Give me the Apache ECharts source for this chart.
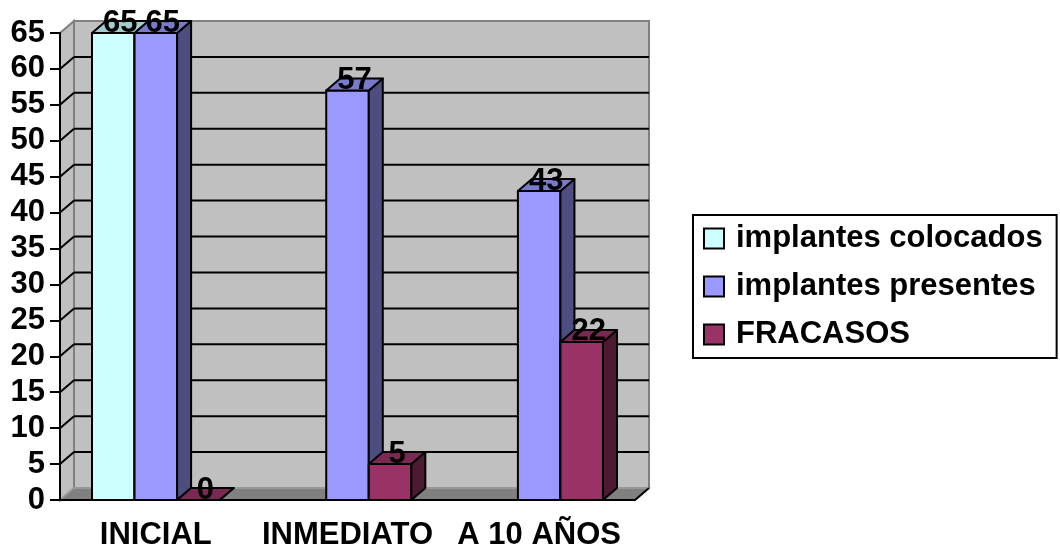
<!DOCTYPE html>
<html>
<head>
<meta charset="utf-8">
<script src="https://cdn.jsdelivr.net/npm/echarts@6/dist/echarts.min.js"></script>
<style>
  html, body { margin: 0; padding: 0; background: #fff; }
  #chart { width: 1060px; height: 549px; }
</style>
</head>
<body>
<div id="chart"></div>
<script>
// Implant counts per stage
const categories = ['INICIAL', 'INMEDIATO', 'A 10 AÑOS'];
const seriesNames = ['implantes colocados', 'implantes presentes', 'FRACASOS'];
const colocados = [65, null, null];
const presentes = [65, 57, 43];
const fracasos = [0, 5, 22];
const yTicks = [0, 5, 10, 15, 20, 25, 30, 35, 40, 45, 50, 55, 60, 65];

const FONT = 'Arial, "Liberation Sans", sans-serif';
const DEPTH_X = 14;      // 3D depth offset of the back plane, px
const DEPTH_Y = -12;
const BAR_FRACTION = 0.222;
const COLORS = ['#CCFFFF', '#9999FF', '#993366'];

function shade(hex, k) {
  const n = parseInt(hex.slice(1), 16);
  const r = Math.round(((n >> 16) & 255) * k);
  const g = Math.round(((n >> 8) & 255) * k);
  const b = Math.round((n & 255) * k);
  return 'rgb(' + r + ',' + g + ',' + b + ')';
}

function toData(arr) {
  const out = [];
  arr.forEach(function (v, i) { if (v !== null) out.push([i, v]); });
  return out;
}

// Back wall, side wall and floor of the 3D plot box
function renderFrame(params, api) {
  const cs = params.coordSys;
  const x0 = cs.x, x1 = cs.x + cs.width, yT = cs.y, yB = cs.y + cs.height;
  const dx = DEPTH_X, dy = DEPTH_Y;
  return {
    type: 'group',
    children: [
      { type: 'rect', shape: { x: x0 + dx, y: yT + dy, width: x1 - x0, height: yB - yT },
        style: { fill: '#C0C0C0', stroke: '#808080', lineWidth: 2 } },
      { type: 'polygon', shape: { points: [[x0, yB], [x0, yT], [x0 + dx, yT + dy], [x0 + dx, yB + dy]] },
        style: { fill: '#C0C0C0', stroke: '#808080', lineWidth: 2 } },
      { type: 'polygon', shape: { points: [[x0, yB], [x1, yB], [x1 + dx, yB + dy], [x0 + dx, yB + dy]] },
        style: { fill: '#808080', stroke: '#A0A0A0', lineWidth: 1.5 } },
      { type: 'line', shape: { x1: x1, y1: yB, x2: x1 + dx, y2: yB + dy },
        style: { stroke: '#000', lineWidth: 2 } }
    ]
  };
}

// Horizontal grid lines on the back wall plus their diagonals on the side wall
function renderGrid(params, api) {
  const v = api.value(1);
  if (v <= 0 || v >= 65) return;
  const cs = params.coordSys;
  const p = api.coord([0, v]);
  const y = p[1];
  const x0 = cs.x, x1 = cs.x + cs.width;
  return {
    type: 'group',
    children: [
      { type: 'line', shape: { x1: x0 + DEPTH_X, y1: y + DEPTH_Y, x2: x1 + DEPTH_X, y2: y + DEPTH_Y },
        style: { stroke: '#000', lineWidth: 2 } },
      { type: 'line', shape: { x1: x0, y1: y, x2: x0 + DEPTH_X, y2: y + DEPTH_Y },
        style: { stroke: '#000', lineWidth: 2 } }
    ]
  };
}

// 3D box bar: front face, right side, top, and value label above it
function barRenderer(slot, color) {
  return function (params, api) {
    const cat = api.value(0), val = api.value(1);
    if (isNaN(val)) return;
    const base = api.coord([cat, 0]);
    const top = api.coord([cat, val]);
    const w = api.size([1, 0])[0] * BAR_FRACTION;
    const xl = base[0] + (slot - 1.5) * w, xr = xl + w;
    const y0 = base[1], yv = top[1];
    const dx = DEPTH_X, dy = DEPTH_Y;
    const edge = { stroke: '#000', lineWidth: 2, lineJoin: 'round' };
    return {
      type: 'group',
      children: [
        { type: 'rect', shape: { x: xl, y: yv, width: w, height: y0 - yv },
          style: Object.assign({ fill: color }, edge) },
        { type: 'polygon', shape: { points: [[xr, y0], [xr, yv], [xr + dx, yv + dy], [xr + dx, y0 + dy]] },
          style: Object.assign({ fill: shade(color, 0.5) }, edge) },
        { type: 'polygon', shape: { points: [[xl, yv], [xr, yv], [xr + dx, yv + dy], [xl + dx, yv + dy]] },
          style: Object.assign({ fill: shade(color, 0.8) }, edge) },
        { type: 'text', z2: 10,
          style: { text: String(val), x: (xl + xr) / 2 + dx / 2, y: yv + dy + 2,
                   align: 'center', verticalAlign: 'middle',
                   font: 'bold 31px ' + FONT, fill: '#000' } }
      ]
    };
  };
}

const chart = echarts.init(document.getElementById('chart'), null, { renderer: 'canvas' });

const barSeries = [colocados, presentes, fracasos].map(function (arr, i) {
  return {
    name: seriesNames[i],
    type: 'custom',
    renderItem: barRenderer(i, COLORS[i]),
    encode: { x: 0, y: 1 },
    data: toData(arr),
    z: 3,
    itemStyle: { color: COLORS[i], borderColor: '#000', borderWidth: 2 }
  };
});

chart.setOption({
  animation: false,
  backgroundColor: '#fff',
  grid: { left: 60, right: 425, top: 33, bottom: 49, containLabel: false, outerBoundsMode: 'none' },
  legend: {
    orient: 'vertical',
    left: 693,
    top: 215,
    padding: [8, 14, 8, 10],
    itemWidth: 20,
    itemHeight: 20,
    itemGap: 17,
    icon: 'rect',
    borderColor: '#000',
    borderWidth: 2,
    selectedMode: false,
    data: seriesNames,
    itemStyle: { borderColor: '#000', borderWidth: 2 },
    textStyle: { fontFamily: FONT, fontSize: 31, fontWeight: 'bold', color: '#000',
                 lineHeight: 30, padding: [0, 0, 0, 7] }
  },
  xAxis: {
    type: 'category',
    data: categories,
    z: 5,
    axisLine: { lineStyle: { color: '#000', width: 2 } },
    axisTick: { length: 8, lineStyle: { color: '#000', width: 2 } },
    axisLabel: { interval: 0, fontFamily: FONT, fontSize: 31, fontWeight: 'bold', color: '#000', margin: 20 },
    splitLine: { show: false }
  },
  yAxis: {
    type: 'value',
    min: 0,
    max: 65,
    interval: 5,
    z: 5,
    axisLine: { show: true, lineStyle: { color: '#000', width: 2 } },
    axisTick: { show: true, length: 10, lineStyle: { color: '#000', width: 2 } },
    axisLabel: { fontFamily: FONT, fontSize: 31, fontWeight: 'bold', color: '#000', margin: 15 },
    splitLine: { show: false }
  },
  series: [
    { name: 'frame', type: 'custom', renderItem: renderFrame, data: [[0, 0]],
      encode: { x: 0, y: 1 }, silent: true, z: 1 },
    { name: 'grid', type: 'custom', renderItem: renderGrid,
      data: yTicks.map(function (v) { return [0, v]; }),
      encode: { x: 0, y: 1 }, silent: true, z: 2 }
  ].concat(barSeries)
});
</script>
</body>
</html>
